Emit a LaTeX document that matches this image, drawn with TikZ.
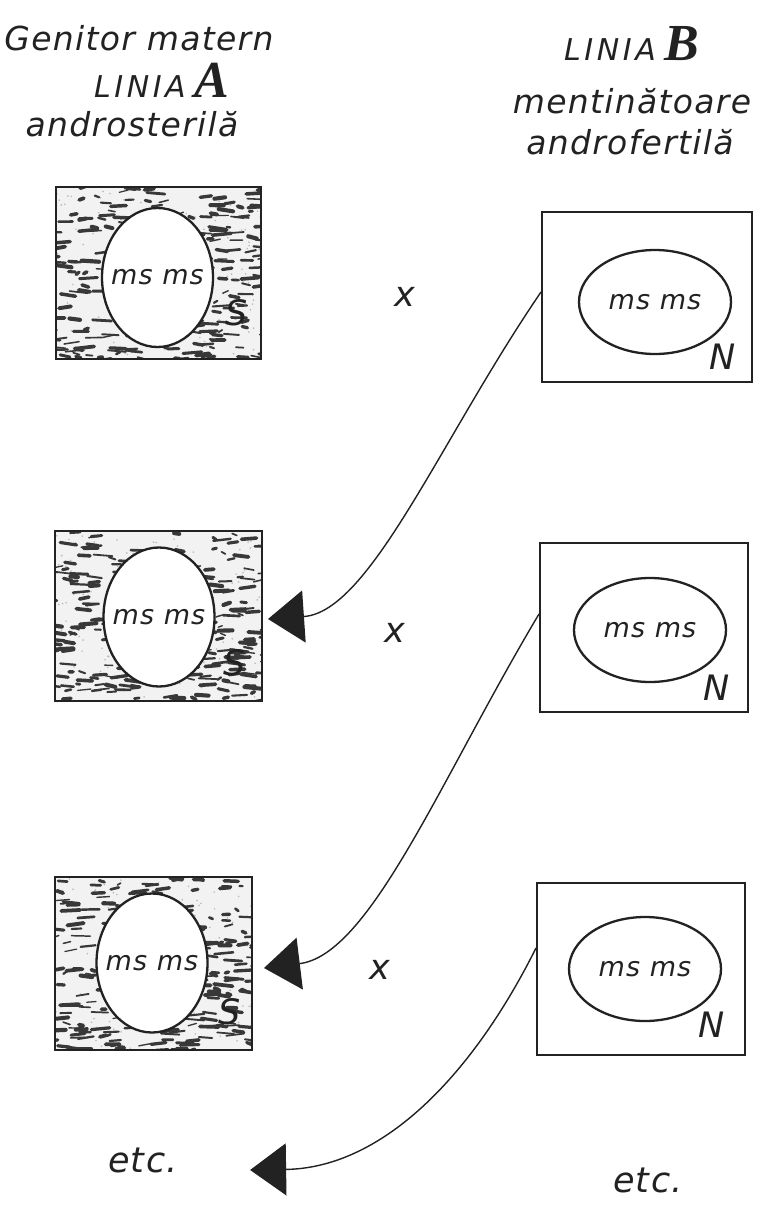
\documentclass[tikz,border=0pt]{standalone}
\usepackage{fontspec}
\usetikzlibrary{arrows.meta,shapes.geometric}
\newfontfamily\hand{DejaVu Sans}[LetterSpace=4]
\newfontfamily\handwide{DejaVu Sans}[LetterSpace=12]
\newfontfamily\serifA{Liberation Serif}
\definecolor{ink}{HTML}{222222}
\begin{document}
\begin{tikzpicture}[x=1pt,y=-1pt,
  hdr/.style={font=\hand\itshape\fontsize{33}{36}\selectfont, text=ink, inner sep=0pt},
  capsf/.style={font=\handwide\itshape\fontsize{30}{32}\selectfont, text=ink, inner sep=0pt},
  bigl/.style={font=\serifA\bfseries\itshape\fontsize{52}{52}\selectfont, text=ink, inner sep=0pt},
  boxline/.style={draw=ink, line width=2pt, inner sep=0pt},
  mottled/.style={path picture={
     \fill[gray!10] (path picture bounding box.north west) rectangle (path picture bounding box.south east);
     \foreach \k in {1,...,120}{
       \pgfmathsetmacro\px{rnd*215}\pgfmathsetmacro\py{rnd*180}
       \fill[gray!55] ([shift={(\px,\py)}]path picture bounding box.north west) circle (0.9);
     }
     \foreach \k in {1,...,260}{
       \pgfmathsetmacro\px{rnd*215-8}\pgfmathsetmacro\py{rnd*180}
       \pgfmathsetmacro\pl{3+rnd*16}\pgfmathsetmacro\dy{rnd*5-2.5}
       \pgfmathsetmacro\pw{1.2+rnd*3}
       \draw[ink!90, line width=\pw pt, line cap=round]
         ([shift={(\px,\py)}]path picture bounding box.north west) -- ++(\pl,\dy);
     }
  }},
  cell/.style={ellipse, draw=ink, line width=2.3pt, fill=white, inner sep=0pt},
  celltext/.style={font=\hand\itshape\fontsize{27}{30}\selectfont, text=ink, inner sep=0pt},
  lcell/.style={cell, minimum width=111pt, minimum height=139pt},
  rcell/.style={cell, minimum width=152pt, minimum height=104pt},
  lbl/.style={font=\hand\itshape\fontsize{35}{37}\selectfont, text=ink, inner sep=0pt},
  link/.style={draw=ink, line width=1.4pt, -{Triangle[length=36pt,width=52pt]}}
]
\useasboundingbox[fill=white] (0,0) rectangle (758,1205);
\pgfmathsetseed{4711}

% headers
\node[hdr, anchor=base] (h1) at (139,50) {Genitor matern};
\node[capsf, anchor=base east] (h2a) at (186,97) {LINIA};
\node[bigl, anchor=base west] (h2b) at (194,97) {A};
\node[hdr, anchor=base] (h3) at (132,136) {androsterilă};
\node[capsf, anchor=base east] (h4a) at (656,60) {LINIA};
\node[bigl, anchor=base west] (h4b) at (664,60) {B};
\node[hdr, anchor=base] (h5) at (632,113) {mentinătoare};
\node[hdr, anchor=base] (h6) at (630,154) {androfertilă};

% left boxes (sterile, mottled)
\node[boxline, mottled, minimum width=205pt, minimum height=172pt] (l1) at (158.5,273) {};
\node[boxline, mottled, minimum width=207pt, minimum height=170pt] (l2) at (158.5,616) {};
\node[boxline, mottled, minimum width=197pt, minimum height=173pt] (l3) at (153.5,963) {};
\node[lcell, label={[celltext]center:ms ms}] (le1) at (157.5,277.5) {};
\node[lcell, label={[celltext]center:ms ms}] (le2) at (159,617) {};
\node[lcell, label={[celltext]center:ms ms}] (le3) at (152,963) {};
\node[lbl] (s1) at (237,313) {S};
\node[lbl] (s2) at (235,663) {S};
\node[lbl] (s3) at (230,1012) {S};

% right boxes (fertile)
\node[boxline, minimum width=210pt, minimum height=170pt] (r1) at (647,297) {};
\node[boxline, minimum width=208pt, minimum height=169pt] (r2) at (644,627) {};
\node[boxline, minimum width=208pt, minimum height=172pt] (r3) at (641,969) {};
\node[rcell, label={[celltext]center:ms ms}] (re1) at (655,302) {};
\node[rcell, label={[celltext]center:ms ms}] (re2) at (650,630) {};
\node[rcell, label={[celltext]center:ms ms}] (re3) at (645,969) {};
\node[lbl] (n1) at (723,357) {N};
\node[lbl] (n2) at (717,688) {N};
\node[lbl] (n3) at (712,1025) {N};

% crosses
\node[lbl] (x1) at (405,297) {x};
\node[lbl] (x2) at (395,633) {x};
\node[lbl] (x3) at (380,970) {x};

% etc.
\node[lbl, anchor=base] (e1) at (143,1172) {etc.};
\node[lbl, anchor=base] (e2) at (648,1192) {etc.};

% connectors
\coordinate (t1) at ([xshift=5pt,yshift=-3pt]l2.east);
\coordinate (t2) at ([xshift=11pt,yshift=-5pt]l3.east);
\coordinate (t3) at ([xshift=72pt,yshift=-10pt]e1.east);
\draw[link] ([yshift=5pt]r1.west) .. controls (440,440) and (370,612) .. (t1);
\draw[link] ([yshift=13pt]r2.west) .. controls (440,780) and (370,955) .. (t2);
\draw[link] ([yshift=21pt]r3.west) .. controls (470,1080) and (380,1168) .. (t3);
\end{tikzpicture}
\end{document}
